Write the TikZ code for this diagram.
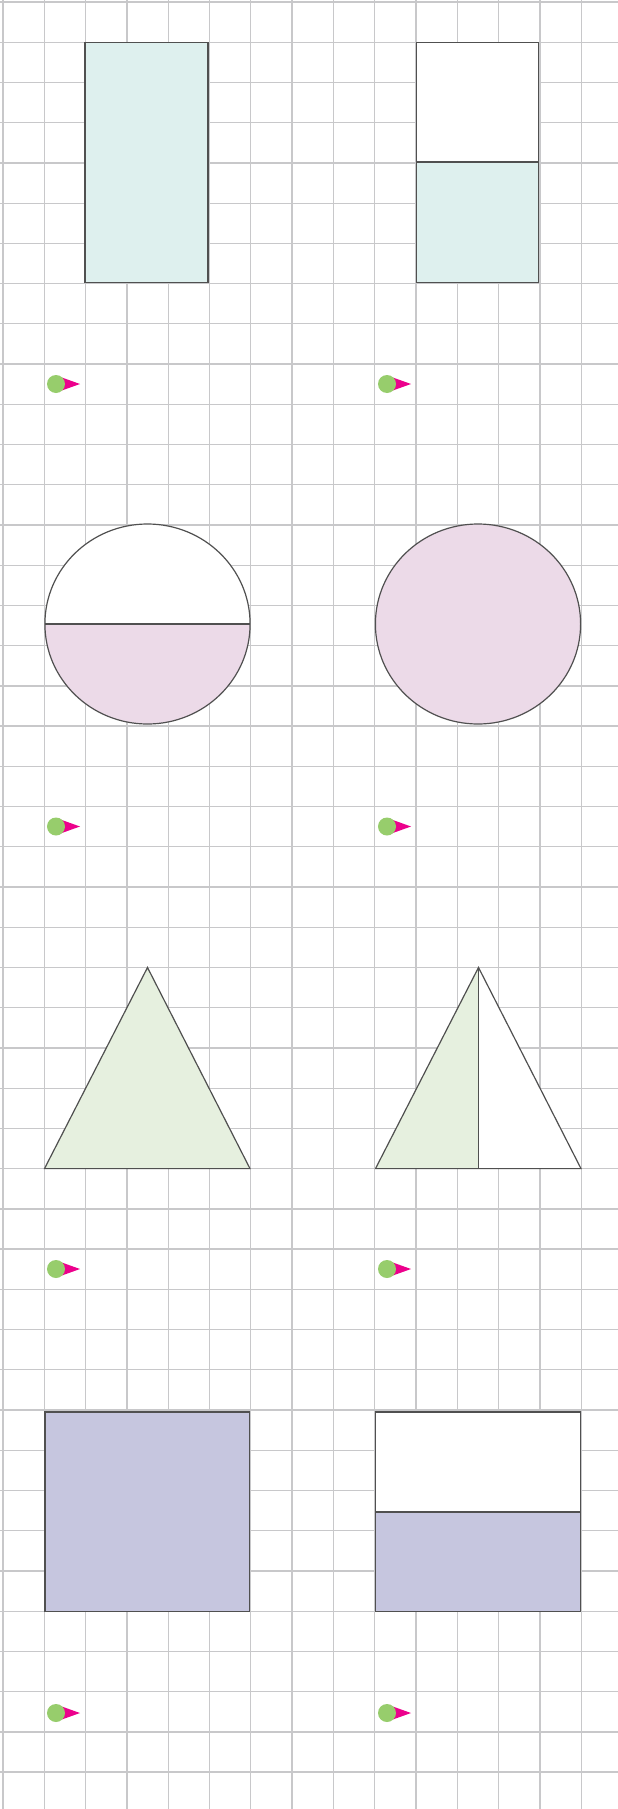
\documentclass[tikz,border=0pt]{standalone}
\definecolor{gridc}{HTML}{C8C8CA}
\definecolor{edgec}{HTML}{505050}
\definecolor{teal}{HTML}{DEF0EE}
\definecolor{mauve}{HTML}{ECDAE8}
\definecolor{sage}{HTML}{E6F0DF}
\definecolor{lav}{HTML}{C6C6DF}
\definecolor{dotg}{HTML}{97CD6C}
\definecolor{pinkm}{HTML}{EC008C}
\tikzset{
  gridline/.style={draw=gridc,line width=1.3pt},
  shapeline/.style={draw=edgec,line width=1.2pt,line join=miter},
  inner line/.style={draw=edgec,line width=1.1pt},
  pic marker/.pic={
    \fill[pinkm] (5,6.8) -- (24,0) -- (5,-6.8) -- cycle;
    \fill[dotg] (0,0) circle (9);
  }
}
\begin{document}
\begin{tikzpicture}[x=1pt,y=-1pt]
\useasboundingbox (0,0) rectangle (618,1809);
\fill[white] (0,0) rectangle (618,1809);
% grid
\foreach \i in {0,...,14} {\draw[gridline] ({3+41.3*\i},0) -- ({3+41.3*\i},1809);}
\foreach \j in {0,...,44} {\draw[gridline] (0,{2+40.23*\j}) -- (618,{2+40.23*\j});}
% rectangles
\draw[shapeline,fill=teal] (85,42.3) rectangle (208,282.5);
\fill[white] (416.5,42.3) rectangle (538.5,162);
\fill[teal] (416.5,162) rectangle (538.5,282.5);
\draw[shapeline] (416.5,42.3) rectangle (538.5,282.5);
\draw[inner line] (416.5,162) -- (538.5,162);
% circles
\fill[white] (147.5,624) ellipse (102.6 and 100);
\begin{scope}
  \clip (0,624) rectangle (300,740);
  \fill[mauve] (147.5,624) ellipse (102.6 and 100);
\end{scope}
\draw[shapeline] (147.5,624) ellipse (102.6 and 100);
\draw[inner line] (45,624) -- (250,624);
\draw[shapeline,fill=mauve] (478,624) ellipse (102.6 and 100);
% triangles
\draw[shapeline,fill=sage] (147.5,967.5) -- (250,1168.6) -- (44.5,1168.6) -- cycle;
\fill[white] (478.5,967.5) -- (581,1168.6) -- (478.5,1168.6) -- cycle;
\fill[sage] (478.5,967.5) -- (375.5,1168.6) -- (478.5,1168.6) -- cycle;
\draw[shapeline] (478.5,967.5) -- (581,1168.6) -- (375.5,1168.6) -- cycle;
\draw[inner line] (478.5,967.5) -- (478.5,1168.6);
% squares
\draw[shapeline,fill=lav] (45,1412) rectangle (249.5,1611.6);
\fill[white] (375.5,1412) rectangle (580.5,1512);
\fill[lav] (375.5,1512) rectangle (580.5,1611.6);
\draw[shapeline] (375.5,1412) rectangle (580.5,1611.6);
\draw[inner line] (375.5,1512) -- (580.5,1512);
% markers
\foreach \mx in {56,387} \foreach \my in {384,826.5,1269,1713}
  {\pic at (\mx,\my) {pic marker};}
\end{tikzpicture}
\end{document}
